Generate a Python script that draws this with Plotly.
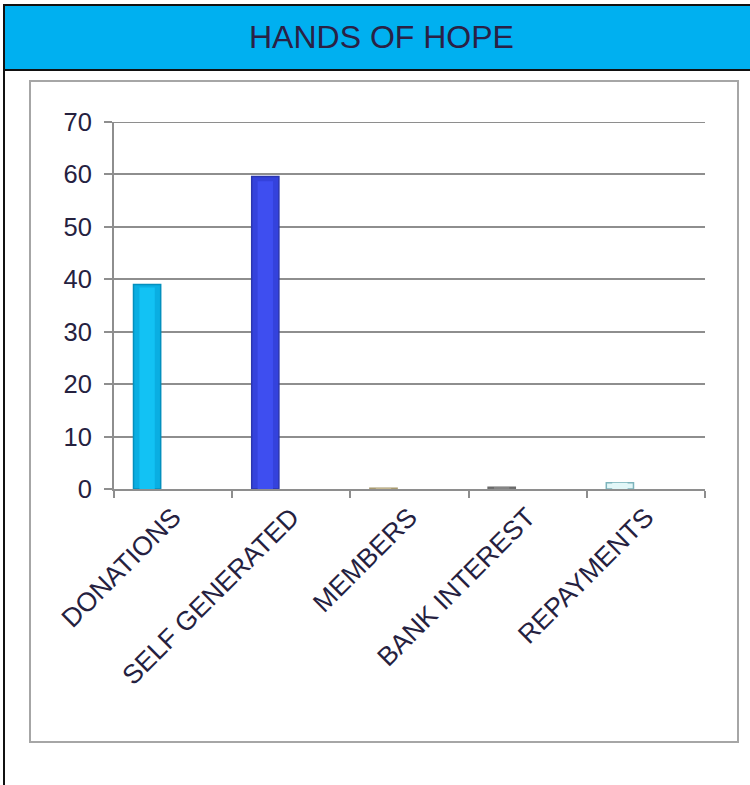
import plotly.graph_objects as go

# Income sources for Hands of Hope
categories = ["DONATIONS", "SELF GENERATED", "MEMBERS", "BANK INTEREST", "REPAYMENTS"]
values = [39, 59.6, 0.15, 0.35, 1.2]
fill_colors = ["#0AAEE2", "#3442DC", "#C4B68E", "#858585", "#E2F7F8"]
face_colors = ["#12C2F4", "#3E4EF0", "#C4B68E", "#858585", "#E2F7F8"]
edge_colors = ["#0390BE", "#2A36B0", "#A89A70", "#6A6A6A", "#7DB4BC"]
y_ticks = [0, 10, 20, 30, 40, 50, 60, 70]
y_max = 70

W, H = 750, 785
L, R, T, B = 114, 705, 122, 489  # plot area in pixels

BAR_W = 0.23
BAR_OFF = -0.335
FACE_W = 0.13


def px(x):
    return (x - L) / (R - L)


def py(y):
    return (B - y) / (B - T)


text_color = "#25213F"
grid_color = "#8E8E8E"
font_family = "Liberation Sans, Arial, sans-serif"

fig = go.Figure()
# bar body with darker bevelled sides
fig.add_trace(go.Bar(
    x=categories,
    y=values,
    width=BAR_W,
    offset=BAR_OFF,
    marker=dict(color=fill_colors, line=dict(color=edge_colors, width=1.5)),
    hoverinfo="x+y",
))
# lighter front face of each bar
fig.add_trace(go.Bar(
    x=categories,
    y=[v * 0.985 for v in values],
    width=FACE_W,
    offset=BAR_OFF + (BAR_W - FACE_W) / 2,
    marker=dict(color=face_colors, line=dict(width=0)),
    hoverinfo="skip",
))

shapes = [
    # title band
    dict(type="rect", xref="paper", yref="paper",
         x0=px(4), x1=px(752), y0=py(70), y1=py(5),
         fillcolor="#00B0F0", line=dict(color="#111111", width=2), layer="below"),
    # outer left border running to the bottom
    dict(type="line", xref="paper", yref="paper",
         x0=px(4), x1=px(4), y0=py(70), y1=py(790),
         line=dict(color="#111111", width=2)),
    # chart frame
    dict(type="rect", xref="paper", yref="paper",
         x0=px(30), x1=px(738), y0=py(742), y1=py(81),
         fillcolor="rgba(0,0,0,0)", line=dict(color="#A6A6A6", width=2), layer="below"),
    # top gridline at the axis maximum
    dict(type="line", xref="paper", yref="y",
         x0=0, x1=1, y0=y_max, y1=y_max,
         line=dict(color=grid_color, width=2), layer="below"),
]

fig.update_layout(
    width=W,
    height=H,
    margin=dict(l=L, r=W - R, t=T, b=H - B, pad=0),
    paper_bgcolor="white",
    plot_bgcolor="white",
    showlegend=False,
    barmode="overlay",
    font=dict(family=font_family, color=text_color),
    shapes=shapes,
    annotations=[
        dict(text="HANDS OF HOPE", xref="paper", yref="paper",
             x=px(381), y=py(37), xanchor="center", yanchor="middle",
             showarrow=False, font=dict(size=32, color="#2A2145", family=font_family)),
    ],
    xaxis=dict(
        type="category",
        tickangle=-45,
        tickfont=dict(size=26.5, color=text_color),
        showline=True,
        linecolor=grid_color,
        linewidth=2,
        ticks="outside",
        tickson="boundaries",
        ticklen=7,
        tickwidth=2,
        tickcolor=grid_color,
        showgrid=False,
        fixedrange=True,
    ),
    yaxis=dict(
        range=[0, y_max],
        tickvals=y_ticks,
        tickfont=dict(size=25.5, color=text_color),
        ticklabelstandoff=7,
        showgrid=True,
        gridcolor=grid_color,
        gridwidth=2,
        showline=True,
        linecolor=grid_color,
        linewidth=2,
        ticks="outside",
        ticklen=8,
        tickwidth=2,
        tickcolor=grid_color,
        zeroline=False,
        fixedrange=True,
    ),
)

fig.write_html("out.html")
